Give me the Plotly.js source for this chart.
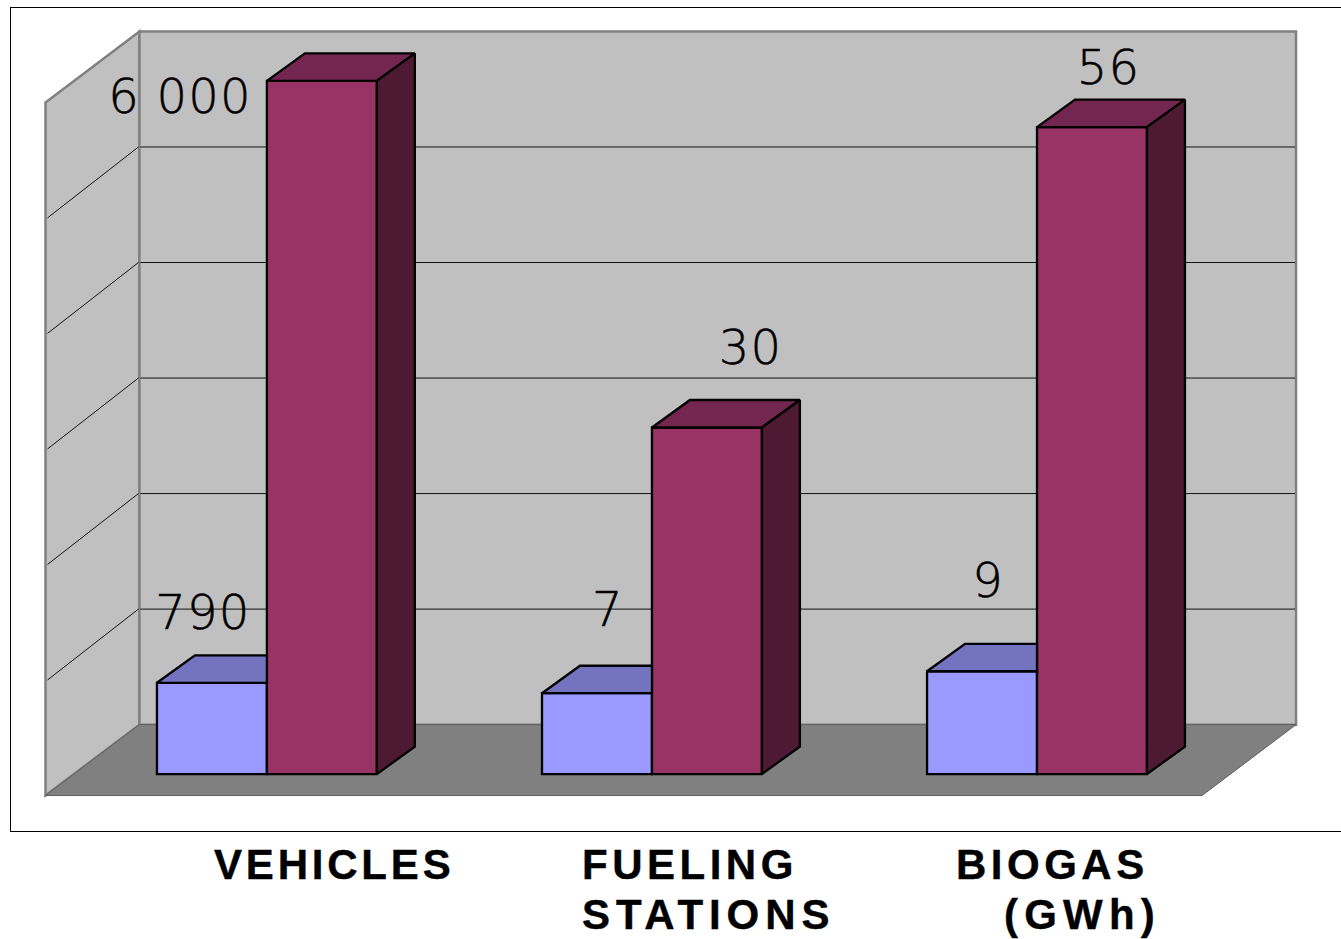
<!DOCTYPE html>
<html>
<head>
<meta charset="utf-8">
<script src="https://cdn.plot.ly/plotly-3.0.1.min.js"></script>
<style>
html,body{margin:0;padding:0;background:#fff;overflow:hidden}
.annotation-text{letter-spacing:4.5px;stroke:#000;stroke-width:0.4px}
.annotation[data-index="0"] .annotation-text{letter-spacing:3.8px}
.annotation[data-index="2"] .annotation-text{letter-spacing:5.9px}
.annotation[data-index="4"] .annotation-text{letter-spacing:6.2px}
.textpoint text{letter-spacing:1.2px;stroke:#000;stroke-width:0.5px}
</style>
</head>
<body>
<div id="chart" style="width:1341px;height:939px"></div>
<script>
// ---- data ----
const groupIndex = [0, 1, 2];
const categoryLines = [["VEHICLES"], ["FUELING", "STATIONS"], ["BIOGAS", "(GWh)"]];
const seriesAHeights = [0.79, 0.70, 0.89];
const seriesBHeights = [6.0, 3.0, 5.6];
const seriesALabels = ["790", "7", "9"];
const seriesBLabels = ["6 000", "30", "56"];

// ---- layout constants (pixels on the 1341x939 page) ----
const W = 1341, H = 939;
const plot = {l: 10.5, t: 7.5, r: 1341, b: 831.5};
const group0Px = 266.5, groupPx = 385.2, baselinePx = 774.5, unitPx = 115.67;
const barPx = 110, depthX = 38, depthY = 27.5;
const back = {l: 139, r: 1296, t: 31, b: 725};
const front = {l: 45, r: 1202, t: 102, b: 796};
const colors = {
  a: "#9999FF", aTop: "#7373BF",
  b: "#993366", bTop: "#732650", bSide: "#4D1933",
  wall: "#C0C0C0", edge: "#808080", floor: "#808080"
};
// value-label nudges relative to bar top centre, in pixels
const labelShiftA = {dx: [-9, 11, 6], dy: [-66, -79, -86]};
const labelShiftB = {dx: [-142, 43.5, 16.5], dy: [20, -76, -55]};
const categoryTextPx = [[[213, 865]], [[581, 865], [581, 915]], [[955, 865], [1003, 915]]];

// pixel <-> axis helpers
const X = px => (px - group0Px) / groupPx;
const Y = px => (baselinePx - px) / unitPx;
const paperY = px => (plot.b - px) / (plot.b - plot.t);
const dxU = px => px / groupPx;
const dyU = px => px / unitPx;
const barW = dxU(barPx), depX = dxU(depthX), depY = dyU(depthY);

function poly(pts) {
  return pts.map((p, i) => (i ? "L" : "M") + p[0] + "," + p[1]).join(" ") + " Z";
}
const shapes = [];
const pxPts = a => a.map(p => [X(p[0]), Y(p[1])]);
shapes.push({type: "path", layer: "below", xref: "x", yref: "y",
  path: poly(pxPts([[front.l, front.t], [back.l, back.t], [back.l, back.b], [front.l, front.b]])),
  fillcolor: colors.wall, line: {color: colors.edge, width: 2.5}});
shapes.push({type: "path", layer: "below", xref: "x", yref: "y",
  path: poly(pxPts([[back.l, back.t], [back.r, back.t], [back.r, back.b], [back.l, back.b]])),
  fillcolor: colors.wall, line: {color: colors.edge, width: 2.5}});
shapes.push({type: "path", layer: "below", xref: "x", yref: "y",
  path: poly(pxPts([[front.l, front.b], [back.l, back.b], [back.r, back.b], [front.r, front.b]])),
  fillcolor: colors.floor, line: {color: "#5f5f5f", width: 1}});
// grid: five levels across back wall and side wall
for (let k = 1; k <= 5; k++) {
  const yb = back.b - k * unitPx, yf = front.b - k * unitPx;
  shapes.push({type: "line", layer: "below", xref: "x", yref: "y",
    x0: X(back.l + 1), y0: Y(yb), x1: X(back.r - 1), y1: Y(yb), line: {color: "#111", width: 1}});
  shapes.push({type: "line", layer: "below", xref: "x", yref: "y",
    x0: X(front.l + 2), y0: Y(yf), x1: X(back.l - 1), y1: Y(yb), line: {color: "#111", width: 1}});
}

const stroke = {color: "#000", width: 2.3};
const traces = [];
traces.push({type: "bar", name: "A", x: groupIndex, y: seriesAHeights, width: barW, offset: -barW,
  marker: {color: colors.a, line: stroke}, hoverinfo: "skip"});
traces.push({type: "bar", name: "B", x: groupIndex, y: seriesBHeights, width: barW, offset: 0,
  marker: {color: colors.b, line: stroke}, hoverinfo: "skip"});

function face(pts, fill) {
  traces.push({type: "scatter", mode: "lines", x: pts.map(p => p[0]), y: pts.map(p => p[1]),
    fill: "toself", fillcolor: fill, line: {color: "#000", width: 2.3, shape: "linear"},
    hoverinfo: "skip", cliponaxis: false});
}
groupIndex.forEach((g, i) => {
  const a = seriesAHeights[i], b = seriesBHeights[i];
  // top of the lower bar, cut where the taller bar's front begins
  face([[g - barW, a], [g - barW + depX, a + depY], [g, a + depY], [g, a], [g - barW, a]], colors.aTop);
  // top and side of the taller bar
  face([[g, b], [g + depX, b + depY], [g + barW + depX, b + depY], [g + barW, b], [g, b]], colors.bTop);
  face([[g + barW, 0], [g + barW + depX, depY], [g + barW + depX, b + depY], [g + barW, b], [g + barW, 0]], colors.bSide);
});

const labX = [], labY = [], labT = [];
groupIndex.forEach((g, i) => {
  labX.push(g - barW / 2 + dxU(labelShiftA.dx[i]));
  labY.push(seriesAHeights[i] - dyU(labelShiftA.dy[i]));
  labT.push(seriesALabels[i]);
  labX.push(g + barW / 2 + dxU(labelShiftB.dx[i]));
  labY.push(seriesBHeights[i] - dyU(labelShiftB.dy[i]));
  labT.push(seriesBLabels[i]);
});
traces.push({type: "scatter", mode: "text", x: labX, y: labY, text: labT, textposition: "middle center",
  textfont: {family: "DejaVu Sans Light, DejaVu Sans", size: 48, color: "#000"}, hoverinfo: "skip", cliponaxis: false});

const annotations = [];
categoryLines.forEach((lines, i) => lines.forEach((t, j) => {
  const p = categoryTextPx[i][j];
  annotations.push({xref: "x", yref: "paper", x: X(p[0]), y: paperY(p[1]), text: t, showarrow: false,
    xanchor: "left", yanchor: "middle", align: "left", borderpad: 0,
    font: {family: "Liberation Sans", size: 42, color: "#000", weight: 700}});
}));

const layout = {
  width: W, height: H, showlegend: false, barmode: "overlay", bargap: 0,
  margin: {l: plot.l, r: W - plot.r, t: plot.t, b: H - plot.b, pad: 0},
  paper_bgcolor: "#fff", plot_bgcolor: "#fff",
  xaxis: {range: [X(plot.l), X(plot.r)], type: "linear", showgrid: false, zeroline: false,
    showticklabels: false, ticks: "", showline: true, mirror: true, linecolor: "#000", linewidth: 1},
  yaxis: {range: [Y(plot.b), Y(plot.t)], showgrid: false, zeroline: false,
    showticklabels: false, ticks: "", showline: true, linecolor: "#000", linewidth: 1},
  shapes, annotations
};
Plotly.newPlot("chart", traces, layout, {displayModeBar: false, staticPlot: true});
</script>
</body>
</html>
